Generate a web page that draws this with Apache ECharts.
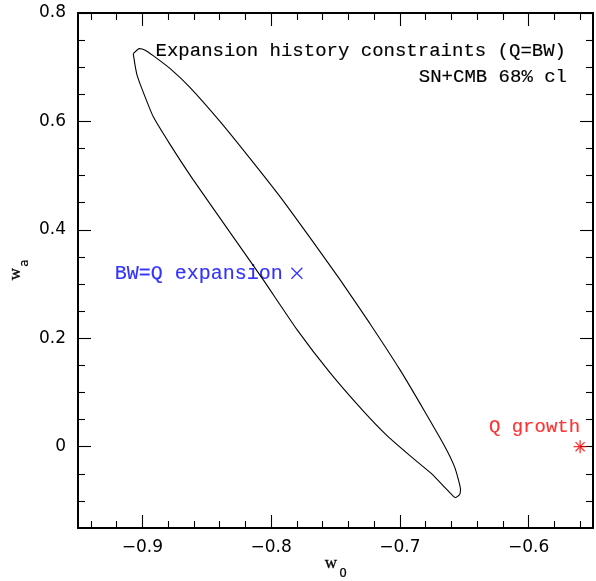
<!DOCTYPE html>
<html>
<head>
<meta charset="utf-8">
<script src="https://cdn.jsdelivr.net/npm/echarts@6/dist/echarts.min.js"></script>
<style>
html,body{margin:0;padding:0;background:#fff;}
#chart{width:596px;height:581px;}
</style>
</head>
<body>
<div id="chart"></div>
<script>
// ---- data ----
var contourW0 = [-0.9071, -0.9024, -0.8978, -0.8916, -0.8784, -0.8629, -0.8396, -0.8163, -0.7931, -0.7698, -0.7465, -0.7232, -0.7000, -0.6806, -0.6650, -0.6573, -0.6529, -0.6537, -0.6568, -0.6627, -0.6754, -0.6922, -0.7100, -0.7287, -0.7543, -0.7799, -0.8062, -0.8318, -0.8606, -0.8784, -0.8916, -0.9001, -0.9040, -0.9055, -0.9071];
var contourWa = [0.7251, 0.7343, 0.7315, 0.7214, 0.6974, 0.6624, 0.5996, 0.5314, 0.4613, 0.3856, 0.3081, 0.2269, 0.1421, 0.0646, 0.0000, -0.0387, -0.0793, -0.0886, -0.0941, -0.0812, -0.0498, -0.0166, 0.0203, 0.0664, 0.1365, 0.2159, 0.3081, 0.3948, 0.4926, 0.5572, 0.6089, 0.6587, 0.6845, 0.7011, 0.7251];
var bwPoint = [-0.78, 0.32];
var qPoint = [-0.56, 0.0];
var xMajorTicks = [-0.9, -0.8, -0.7, -0.6];
var xMinorTicks = [-0.94, -0.92, -0.88, -0.86, -0.84, -0.82, -0.78, -0.76, -0.74, -0.72, -0.68, -0.66, -0.64, -0.62, -0.58, -0.56];
var yMajorTicks = [0, 0.2, 0.4, 0.6, 0.8];
var yMinorTicks = [-0.1, -0.05, 0.05, 0.1, 0.15, 0.25, 0.3, 0.35, 0.45, 0.5, 0.55, 0.65, 0.7, 0.75];
var titleLines = ['Expansion history constraints (Q=BW)', 'SN+CMB 68% cl'];
var bwLabel = 'BW=Q expansion';
var qLabel = 'Q growth';

var contourData = contourW0.map(function (x, i) { return [x, contourWa[i]]; });

var labelFont = { fontFamily: 'DejaVu Sans', fontSize: 17, color: '#000' };
function fmt(v) {
  var s = String(Math.round(v * 100) / 100);
  return s.replace('-', '\u2212');
}
function xAx(pos, ticks, len, showLine, showLabel) {
  return {
    type: 'value', position: pos, min: -0.95, max: -0.55,
    axisLine: { show: showLine, onZero: false, lineStyle: { color: '#000', width: 2 } },
    axisTick: { show: true, inside: true, length: len, customValues: ticks, lineStyle: { color: '#000', width: 1.1 } },
    axisLabel: showLabel ? Object.assign({ show: true, customValues: ticks, margin: 11, formatter: fmt }, labelFont) : { show: false },
    splitLine: { show: false }
  };
}
function yAx(pos, ticks, len, showLine, showLabel) {
  return {
    type: 'value', position: pos, min: -0.15, max: 0.8,
    axisLine: { show: showLine, onZero: false, lineStyle: { color: '#000', width: 2 } },
    axisTick: { show: true, inside: true, length: len, customValues: ticks, lineStyle: { color: '#000', width: 1.1 } },
    axisLabel: showLabel ? Object.assign({ show: true, customValues: ticks, margin: 12, formatter: fmt }, labelFont) : { show: false },
    splitLine: { show: false }
  };
}

var chart = echarts.init(document.getElementById('chart'), null, { renderer: 'canvas' });
var monoFont = '"Liberation Mono", monospace';
function txt(x, y, s, color) {
  return { type: 'text', x: x, y: y, style: { text: s, align: 'right', verticalAlign: 'middle',
    fontFamily: monoFont, fontSize: 19, fill: color, stroke: color, lineWidth: 0.15 } };
}
chart.setOption({
  animation: false,
  backgroundColor: '#fff',
  grid: { left: 78, top: 13, width: 515, height: 515, containLabel: false },
  xAxis: [
    xAx('bottom', xMajorTicks, 13, true, true),
    xAx('bottom', xMinorTicks, 7, false, false),
    xAx('top', xMajorTicks, 13, true, false),
    xAx('top', xMinorTicks, 7, false, false)
  ],
  yAxis: [
    yAx('left', yMajorTicks, 13, true, true),
    yAx('left', yMinorTicks, 7, false, false),
    yAx('right', yMajorTicks, 13, true, false),
    yAx('right', yMinorTicks, 7, false, false)
  ],
  series: [
    {
      type: 'line', xAxisIndex: 0, yAxisIndex: 0,
      data: contourData, showSymbol: false, symbol: 'none', smooth: 0.15,
      lineStyle: { color: '#000', width: 1.1 }
    },
    {
      type: 'scatter', xAxisIndex: 0, yAxisIndex: 0,
      data: [bwPoint],
      symbol: 'path://M0,0L10,10M0,10L10,0', symbolSize: 11,
      itemStyle: { color: 'rgba(0,0,0,0)', borderColor: '#0000ff', borderWidth: 1.3 },
      label: { show: true, formatter: bwLabel, position: 'left', distance: 8,
        color: '#0000ff', fontFamily: monoFont, fontSize: 20, textBorderColor: '#0000ff', textBorderWidth: 0.15 }
    },
    {
      type: 'scatter', xAxisIndex: 0, yAxisIndex: 0,
      data: [qPoint],
      symbol: 'path://M0,-6L0,6M-6,0L6,0M-4.2,-4.2L4.2,4.2M-4.2,4.2L4.2,-4.2', symbolSize: 13,
      itemStyle: { color: 'rgba(0,0,0,0)', borderColor: '#ff0000', borderWidth: 1.3 },
      label: { show: true, formatter: qLabel, position: 'top', align: 'right', distance: 3,
        color: '#ff0000', fontFamily: monoFont, fontSize: 19, textBorderColor: '#ff0000', textBorderWidth: 0.15 }
    }
  ],
  graphic: [
    txt(566, 51, titleLines[0], '#000'),
    txt(567, 77, titleLines[1], '#000'),
    { type: 'group', x: 331, y: 565.5, children: [
      { type: 'text', x: 0, y: -1.7, style: { text: 'w', align: 'center', verticalAlign: 'middle', fontFamily: 'Liberation Serif', fontSize: 17, fill: '#000', stroke: '#000', lineWidth: 0.3 } },
      { type: 'text', x: 12, y: 8.5, style: { text: '0', align: 'center', verticalAlign: 'middle', fontFamily: 'DejaVu Sans', fontSize: 12, fill: '#000', stroke: '#000', lineWidth: 0.2 } }
    ] },
    { type: 'group', x: 17.5, y: 274, rotation: Math.PI / 2, children: [
      { type: 'text', x: 0, y: -1.7, style: { text: 'w', align: 'center', verticalAlign: 'middle', fontFamily: 'Liberation Serif', fontSize: 17, fill: '#000', stroke: '#000', lineWidth: 0.3 } },
      { type: 'text', x: 11, y: 7.3, style: { text: 'a', align: 'center', verticalAlign: 'middle', fontFamily: 'DejaVu Sans', fontSize: 12, fill: '#000', stroke: '#000', lineWidth: 0.2 } }
    ] }
  ]
});
</script>
</body>
</html>
